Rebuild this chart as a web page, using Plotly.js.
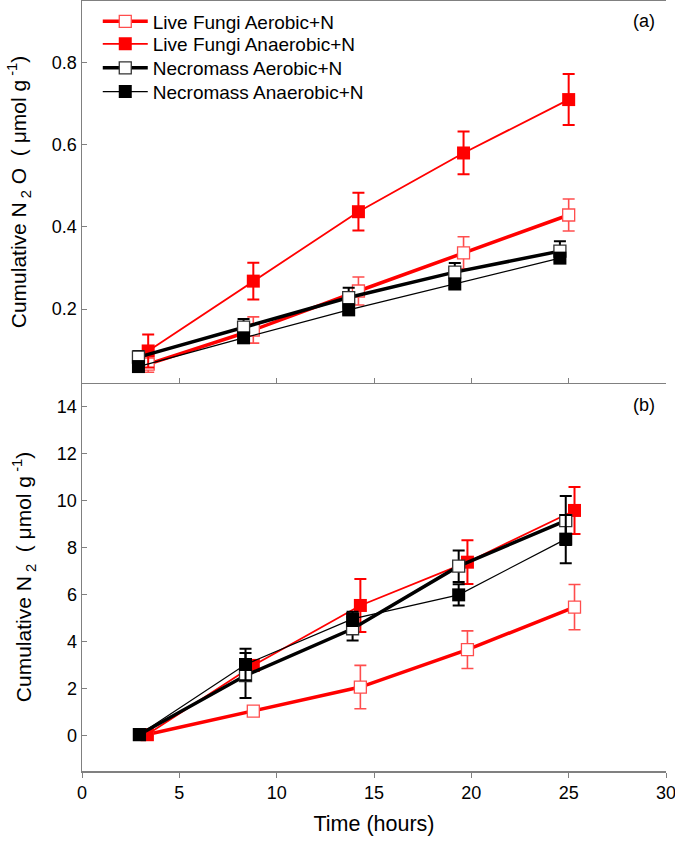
<!DOCTYPE html>
<html>
<head>
<meta charset="utf-8">
<script src="https://cdn.plot.ly/plotly-3.0.1.min.js"></script>
<style>html,body{margin:0;padding:0;background:#fff;}#chart{width:675px;height:842px;}</style>
</head>
<body>
<div id="chart"></div>
<script>
// Series names
const seriesNames = ["Live Fungi Aerobic+N", "Live Fungi Anaerobic+N", "Necromass Aerobic+N", "Necromass Anaerobic+N"];

// Panel (a): cumulative N2O
const timeLiveA = [3.4, 8.8, 14.2, 19.6, 25.0];
const timeNecroA = [2.9, 8.3, 13.7, 19.15, 24.55];
const liveAeroN2O = [0.066, 0.149, 0.244, 0.337, 0.429];
const liveAeroN2OErr = [0.02, 0.032, 0.034, 0.039, 0.039];
const liveAnaerN2O = [0.098, 0.268, 0.437, 0.58, 0.71];
const liveAnaerN2OErr = [0.04, 0.045, 0.046, 0.052, 0.062];
const necroAeroN2O = [0.083, 0.156, 0.228, 0.29, 0.341];
const necroAeroN2OErr = [0.015, 0.02, 0.024, 0.022, 0.024];
const necroAnaerN2O = [0.06, 0.13, 0.198, 0.261, 0.324];
const necroAnaerN2OErr = [0.01, 0.01, 0.01, 0.01, 0.01];

// Panel (b): cumulative N2
const timeLiveB = [3.35, 8.8, 14.3, 19.8, 25.3];
const timeNecroB = [2.95, 8.4, 13.9, 19.35, 24.85];
const liveAeroN2 = [0.05, 1.05, 2.07, 3.66, 5.47];
const liveAeroN2Err = [0.05, 0.1, 0.92, 0.8, 0.96];
const liveAnaerN2 = [0.05, 2.99, 5.54, 7.38, 9.58];
const liveAnaerN2Err = [0.05, 0.2, 1.13, 0.93, 1.0];
const necroAeroN2 = [0.05, 2.56, 4.55, 7.21, 9.15];
const necroAeroN2Err = [0.05, 0.96, 0.5, 0.67, 1.04];
const necroAnaerN2 = [0.05, 3.03, 4.97, 5.99, 8.36];
const necroAnaerN2Err = [0.05, 0.67, 0.3, 0.45, 1.03];

// Tick labels
const xTicks = [0, 5, 10, 15, 20, 25, 30];
const yTicksA = [0.2, 0.4, 0.6, 0.8];
const yTicksB = [0, 2, 4, 6, 8, 10, 12, 14];

const styles = [
  {line: {color: '#ff0000', width: 3.5}, marker: {symbol: 'square', size: 12, color: '#ffffff', line: {color: '#ff4d4d', width: 1.3}}, err: {color: '#ff4d4d', thickness: 1.6, width: 6}},
  {line: {color: '#ff0000', width: 1.8}, marker: {symbol: 'square', size: 13, color: '#ff0000', line: {color: '#ff0000', width: 0}}, err: {color: '#ff0000', thickness: 2, width: 6}},
  {line: {color: '#000000', width: 3.5}, marker: {symbol: 'square', size: 12, color: '#ffffff', line: {color: '#333333', width: 1.3}}, err: {color: '#000000', thickness: 2, width: 6}},
  {line: {color: '#000000', width: 1.2}, marker: {symbol: 'square', size: 13, color: '#000000', line: {color: '#000000', width: 0}}, err: {color: '#000000', thickness: 2, width: 6}}
];
const legendIds = ['legend', 'legend2', 'legend3', 'legend4'];

function mk(i, x, y, e, xa, ya, showLeg) {
  return {
    type: 'scatter', mode: 'lines+markers', name: seriesNames[i],
    x: x, y: y, xaxis: xa, yaxis: ya, showlegend: showLeg, legend: legendIds[i],
    line: styles[i].line, marker: styles[i].marker,
    error_y: {type: 'data', array: e, visible: true, color: styles[i].err.color, thickness: styles[i].err.thickness, width: styles[i].err.width},
    cliponaxis: false
  };
}

const data = [
  mk(0, timeLiveA, liveAeroN2O, liveAeroN2OErr, 'x2', 'y2', true),
  mk(1, timeLiveA, liveAnaerN2O, liveAnaerN2OErr, 'x2', 'y2', true),
  mk(2, timeNecroA, necroAeroN2O, necroAeroN2OErr, 'x2', 'y2', true),
  mk(3, timeNecroA, necroAnaerN2O, necroAnaerN2OErr, 'x2', 'y2', true),
  mk(0, timeLiveB, liveAeroN2, liveAeroN2Err, 'x', 'y', false),
  mk(1, timeLiveB, liveAnaerN2, liveAnaerN2Err, 'x', 'y', false),
  mk(2, timeNecroB, necroAeroN2, necroAeroN2Err, 'x', 'y', false),
  mk(3, timeNecroB, necroAnaerN2, necroAnaerN2Err, 'x', 'y', false)
];

const font = {family: 'Liberation Sans, Arial, sans-serif', color: '#000000'};
const axLine = '#808080';
const split = 0.5039;
const legendRowsY = [0.9734, 0.9442, 0.9130, 0.8822];

function leg(k) {
  return {x: 0.027, y: legendRowsY[k], xanchor: 'left', yanchor: 'middle', bgcolor: 'rgba(0,0,0,0)',
          font: Object.assign({size: 19}, font), itemwidth: 45};
}

const layout = {
  width: 675, height: 842,
  margin: {l: 82, r: 9, t: 1, b: 71},
  paper_bgcolor: '#ffffff', plot_bgcolor: '#ffffff',
  font: Object.assign({size: 18}, font),
  showlegend: true,
  legend: leg(0), legend2: leg(1), legend3: leg(2), legend4: leg(3),
  xaxis: {
    anchor: 'y', domain: [0, 1], range: [0, 30], tickvals: xTicks, ticktext: xTicks.map(String),
    ticks: 'outside', ticklen: 5, tickcolor: axLine, showline: true, linecolor: axLine, linewidth: 1.5, mirror: false,
    showgrid: false, zeroline: false, tickfont: Object.assign({size: 18}, font), ticklabeloverflow: 'allow',
    title: {text: 'Time (hours)', font: Object.assign({size: 21.5}, font), standoff: 14}
  },
  yaxis: {
    anchor: 'x', domain: [0, split], range: [-1.5, 15], tickvals: yTicksB, ticktext: yTicksB.map(String),
    ticks: 'inside', ticklen: 5, tickcolor: axLine, showline: true, linecolor: axLine, linewidth: 1.5,
    showgrid: false, zeroline: false, tickfont: Object.assign({size: 18}, font),
    title: {text: 'Cumulative N<sub> 2</sub>  ( μmol g<sup> -1</sup>)', font: Object.assign({size: 21}, font), standoff: 19}
  },
  xaxis2: {
    anchor: 'y2', domain: [0, 1], range: [0, 30], tickvals: xTicks, showticklabels: false,
    ticks: 'inside', ticklen: 5, tickcolor: axLine, showline: true, linecolor: axLine, linewidth: 1.5, mirror: true,
    showgrid: false, zeroline: false
  },
  yaxis2: {
    anchor: 'x2', domain: [split, 1], range: [0.02, 0.95], tickvals: yTicksA, ticktext: yTicksA.map(v => v.toFixed(1)),
    ticks: 'inside', ticklen: 5, tickcolor: axLine, showline: true, linecolor: axLine, linewidth: 1.5,
    showgrid: false, zeroline: false, tickfont: Object.assign({size: 18}, font),
    title: {text: 'Cumulative N<sub> 2</sub> O  ( μmol g<sup> -1</sup>)', font: Object.assign({size: 21}, font), standoff: 19}
  },
  annotations: [
    {text: '(a)', xref: 'paper', yref: 'paper', x: 0.985, y: 0.974, xanchor: 'right', yanchor: 'middle', showarrow: false, font: Object.assign({size: 18}, font)},
    {text: '(b)', xref: 'paper', yref: 'paper', x: 0.985, y: 0.4747, xanchor: 'right', yanchor: 'middle', showarrow: false, font: Object.assign({size: 18}, font)}
  ]
};

Plotly.newPlot('chart', data, layout, {displayModeBar: false, staticPlot: true});
</script>
</body>
</html>
